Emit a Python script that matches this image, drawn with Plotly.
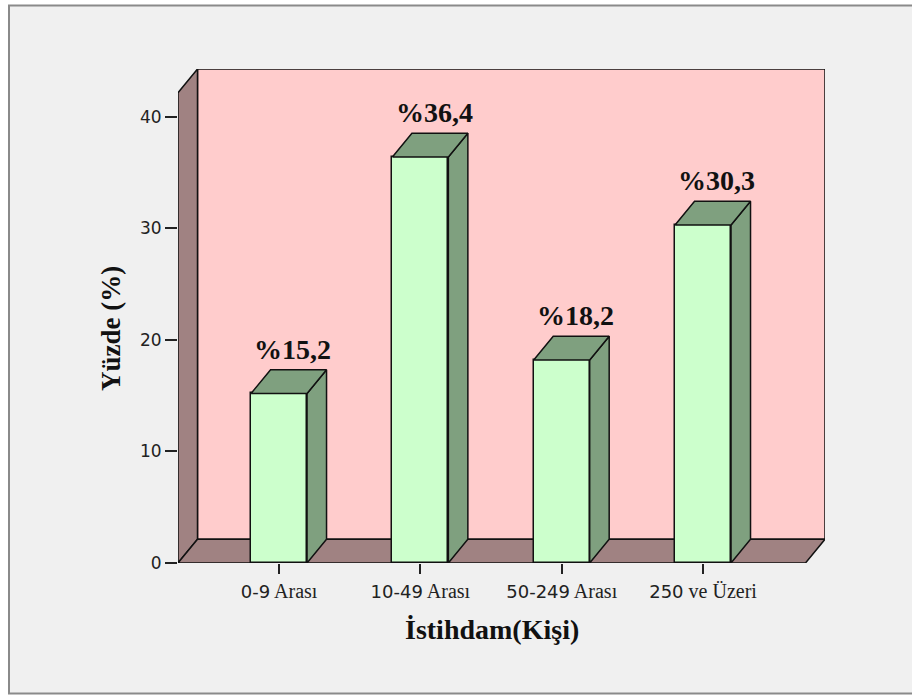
import plotly.graph_objects as go

# Employment size classes and their share (%)
categories = ["0-9 Arası", "10-49 Arası", "50-249 Arası", "250 ve Üzeri"]
cat_numbers = ["0-9", "10-49", "50-249", "250"]
cat_words = ["Arası", "Arası", "Arası", "ve Üzeri"]
percent = [15.2, 36.4, 18.2, 30.3]
y_ticks = [0, 10, 20, 30, 40]

# 3D box geometry (in data units)
BAR_W = 0.396        # width of each bar's front face
DX, DY = 0.138, 2.13  # depth offset of the box
X_LEFT = -0.715      # front-left corner of the floor
Y_TOP = 42.15        # front height of the side wall
X_RIGHT = 3.863      # back-right corner of the back wall

WALL = "#FFCCCC"
SIDE = "#A08282"
BAR_FRONT = "#CCFFCC"
BAR_DARK = "#7FA07F"
EDGE = "#111111"

idx = list(range(len(categories)))

fig = go.Figure()

# Bar side and top faces
for i, v in zip(idx, percent):
    xl, xr = i - BAR_W / 2, i + BAR_W / 2
    fig.add_trace(go.Scatter(
        x=[xr, xr, xr + DX, xr + DX, xr],
        y=[0, v, v + DY, DY, 0],
        mode="lines", fill="toself", fillcolor=BAR_DARK,
        line=dict(color=EDGE, width=1.5), hoverinfo="skip", showlegend=False))
    fig.add_trace(go.Scatter(
        x=[xl, xl + DX, xr + DX, xr, xl],
        y=[v, v + DY, v + DY, v, v],
        mode="lines", fill="toself", fillcolor=BAR_DARK,
        line=dict(color=EDGE, width=1.5), hoverinfo="skip", showlegend=False))

# Bar front faces
fig.add_trace(go.Bar(
    x=idx, y=percent, width=BAR_W,
    marker=dict(color=BAR_FRONT, line=dict(color=EDGE, width=1.5)),
    hoverinfo="skip", showlegend=False))

# Value labels above each bar
for i, v in zip(idx, percent):
    fig.add_annotation(
        x=i + DX * 0.7, y=v + DY, xref="x", yref="y",
        text="<b>%" + f"{v:.1f}".replace(".", ",") + "</b>",
        showarrow=False, yanchor="bottom", yshift=3,
        font=dict(family="Liberation Serif", size=28, color="#111111"))

# Box walls and floor drawn beneath the bars
shapes = [
    # back wall
    dict(type="path", xref="x", yref="y", layer="below",
         path=f"M{X_LEFT + DX},{DY} L{X_RIGHT},{DY} L{X_RIGHT},{Y_TOP + DY} "
              f"L{X_LEFT + DX},{Y_TOP + DY} Z",
         fillcolor=WALL, line=dict(color=EDGE, width=1.5)),
    # left side wall
    dict(type="path", xref="x", yref="y", layer="below",
         path=f"M{X_LEFT},0 L{X_LEFT},{Y_TOP} L{X_LEFT + DX},{Y_TOP + DY} "
              f"L{X_LEFT + DX},{DY} Z",
         fillcolor=SIDE, line=dict(color=EDGE, width=1.5)),
    # floor
    dict(type="path", xref="x", yref="y", layer="below",
         path=f"M{X_LEFT},0 L{X_LEFT + DX},{DY} L{X_RIGHT},{DY} "
              f"L{X_RIGHT - DX},0 Z",
         fillcolor=SIDE, line=dict(color=EDGE, width=1.5)),
]

# Outer chart frame
ML, MR, MT, MB = 178, 87, 69, 132
W, H = 912, 695
pw, ph = W - ML - MR, H - MT - MB
def px_x(p):
    return (p - ML) / pw
def px_y(p):
    return (H - MB - p) / ph
shapes.insert(0, dict(type="rect", xref="paper", yref="paper", layer="below",
                      x0=px_x(9), x1=px_x(930), y0=px_y(693.5), y1=px_y(5.5),
                      fillcolor="#F0F0F0", line=dict(color="#8A8A8A", width=2)))

tick_text = [
    f"<span style='font-family:\"DejaVu Sans\";font-size:18px'>{n}</span> {w}"
    for n, w in zip(cat_numbers, cat_words)
]

fig.update_layout(
    width=W, height=H,
    margin=dict(l=ML, r=MR, t=MT, b=MB),
    paper_bgcolor="white", plot_bgcolor="rgba(0,0,0,0)",
    shapes=shapes,
    bargap=0,
    xaxis=dict(range=[X_LEFT, X_RIGHT], tickmode="array", tickvals=idx,
               ticktext=tick_text, ticks="outside", ticklen=10, tickwidth=1.5,
               tickcolor="#222222", showgrid=False, zeroline=False, showline=False,
               tickfont=dict(family="Liberation Serif", size=20, color="#222222")),
    yaxis=dict(range=[0, Y_TOP + DY], tickmode="array", tickvals=y_ticks,
               ticks="outside", ticklen=12, tickwidth=1.5, tickcolor="#222222",
               showgrid=False, zeroline=False, showline=False,
               tickfont=dict(family="DejaVu Sans", size=17, color="#222222")),
)

# Axis titles
fig.add_annotation(x=(X_LEFT + X_RIGHT - DX) / 2, y=px_y(647), xref="x", yref="paper",
                   text="<b>İstihdam(Kişi)</b>", showarrow=False,
                   font=dict(family="Liberation Serif", size=28, color="#111111"))
fig.add_annotation(x=px_x(94), y=px_y(329), xref="paper", yref="paper",
                   text="<b>Yüzde (%)</b>", showarrow=False, textangle=-90,
                   font=dict(family="Liberation Serif", size=27, color="#111111"))

fig.write_html("out.html")
